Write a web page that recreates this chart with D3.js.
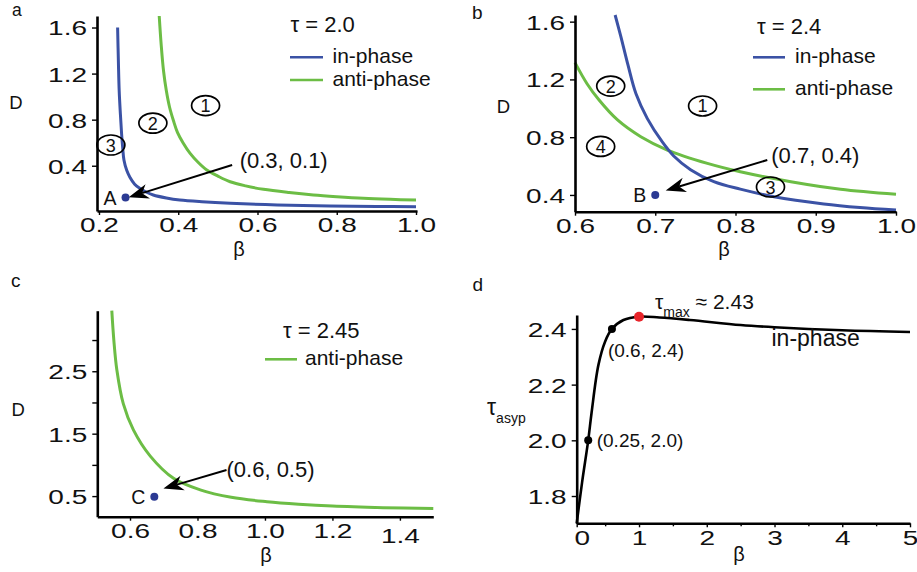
<!DOCTYPE html>
<html><head><meta charset="utf-8">
<script src="https://cdn.jsdelivr.net/npm/d3@7"></script>
<style>
body{margin:0;background:#fff}
svg{display:block}
text{font-family:'Liberation Sans',Arial,Helvetica,sans-serif;fill:#111}
</style>
</head><body>
<svg id="chart" width="917" height="572"></svg>
<script>
// ---------------- DATA ----------------
// Panel a (tau = 2.0): [beta, D]
const aInPhase = [[0.247,1.6],[0.249,1.3],[0.251,1.05],[0.254,0.85],[0.257,0.68],[0.260,0.55],[0.263,0.45],[0.270,0.36],[0.278,0.30],[0.290,0.24],[0.303,0.204],[0.320,0.17],[0.337,0.146],[0.370,0.12],[0.404,0.102],[0.460,0.087],[0.531,0.074],[0.650,0.06],[0.783,0.05],[0.900,0.047],[1.0,0.044]];
const aAntiPhase = [[0.352,1.7],[0.357,1.45],[0.363,1.22],[0.370,1.05],[0.378,0.91],[0.388,0.79],[0.398,0.69],[0.412,0.6],[0.430,0.507],[0.450,0.43],[0.472,0.363],[0.500,0.31],[0.531,0.261],[0.570,0.225],[0.615,0.195],[0.680,0.167],[0.741,0.146],[0.800,0.131],[0.867,0.117],[0.935,0.108],[1.0,0.102]];
// Panel b (tau = 2.4)
const bInPhase = [[0.650,1.646],[0.657,1.5],[0.666,1.3],[0.676,1.1],[0.690,0.93],[0.709,0.765],[0.723,0.67],[0.744,0.575],[0.773,0.492],[0.806,0.44],[0.848,0.388],[0.910,0.338],[0.955,0.313],[1.0,0.295]];
const bAntiPhase = [[0.600,1.316],[0.615,1.17],[0.630,1.057],[0.653,0.919],[0.682,0.803],[0.715,0.711],[0.765,0.619],[0.806,0.561],[0.869,0.492],[0.931,0.44],[1.0,0.405]];
// Panel c (tau = 2.45)
const cAntiPhase = [[0.546,3.47],[0.552,3.0],[0.561,2.52],[0.580,1.98],[0.610,1.56],[0.660,1.14],[0.730,0.78],[0.808,0.6],[0.900,0.48],[1.006,0.41],[1.100,0.37],[1.200,0.34],[1.350,0.315],[1.499,0.30]];
// Panel d: [beta, tau_asyp]
const dInPhase = [[0.08,1.702],[0.16,1.85],[0.25,2.0],[0.30,2.1],[0.40,2.27],[0.50,2.355],[0.60,2.4],[0.77,2.432],[1.0,2.444],[1.3,2.441],[1.75,2.432],[2.5,2.414],[3.0,2.406],[4.0,2.395],[5.0,2.389]];
const dMarked = [[0.25,2.0,"#000"],[0.6,2.4,"#000"],[1.0,2.444,"#e8252b"]];

// tick values
const aTicksX = [0.2,0.4,0.6,0.8,1.0], aTicksY = [0.4,0.8,1.2,1.6];
const bTicksX = [0.6,0.7,0.8,0.9,1.0], bTicksY = [0.4,0.8,1.2,1.6];
const cTicksX = [0.6,0.8,1.0,1.2,1.4], cTicksY = [0.5,1.0,1.5,2.0,2.5,3.0], cLabelsY = [0.5,1.5,2.5];
const dTicksX = [1,2,3,4,5], dMinorX = [0.5,1.5,2.5,3.5,4.5], dTicksY = [1.8,2.0,2.2,2.4];

// region labels [beta, D, label]
const aRegions = [[0.469,0.922,"1"],[0.336,0.77,"2"],[0.23,0.58,"3"]];
const bRegions = [[0.759,1.016,"1"],[0.6445,1.154,"2"],[0.8436,0.455,"3"],[0.632,0.736,"4"]];

// marked points and arrows: point, label, arrow start, arrow tip, text
const aMark = {pt:[0.267,0.124], name:"A", from:[0.536,0.406], to:[0.275,0.126], text:"(0.3, 0.1)", textAt:[0.555,0.448]};
const bMark = {pt:[0.7,0.4], name:"B", from:[0.8396,0.642], to:[0.713,0.43], text:"(0.7, 0.4)", textAt:[0.8446,0.672]};
const cMark = {pt:[0.672,0.49], name:"C", from:[0.886,0.918], to:[0.699,0.62], text:"(0.6, 0.5)", textAt:[0.886,0.93]};

const BLUE = "#3b52a5", GREEN = "#6cbd45", DOT = "#2b3a93";
const TSCALE = 1.4;

// ---------------- DRAW ----------------
const svg = d3.select("#chart");

function styleAxis(g){
  g.select(".domain").attr("stroke","#000").attr("stroke-width",2.6);
  g.selectAll(".tick line").attr("stroke","#000").attr("stroke-width",1.4);
  g.selectAll(".tick text").attr("fill","#111").style("font-size","20px");
}
function xAxis(x, yPix, ticks, fmt){
  const g = svg.append("g").attr("transform",`translate(0,${yPix})`)
    .call(d3.axisBottom(x).tickValues(ticks).tickSizeInner(4).tickSizeOuter(0).tickFormat(fmt));
  styleAxis(g);
  g.selectAll(".tick text").attr("y",21.5).attr("dy",0).attr("transform",`scale(${TSCALE},1)`);
  return g;
}
function yAxis(y, xPix, ticks, fmt){
  const g = svg.append("g").attr("transform",`translate(${xPix},0)`)
    .call(d3.axisLeft(y).tickValues(ticks).tickSizeInner(5).tickSizeOuter(0).tickFormat(fmt));
  styleAxis(g);
  g.selectAll(".tick text").attr("x",-10/TSCALE).attr("dy","0.37em").attr("transform",`scale(${TSCALE},1)`);
  return g;
}
function curve(x,y,data,color,w=3){
  svg.append("path").datum(data)
    .attr("d", d3.line().x(d=>x(d[0])).y(d=>y(d[1])).curve(d3.curveCatmullRom.alpha(0.5)))
    .attr("fill","none").attr("stroke",color).attr("stroke-width",w).attr("stroke-linecap","butt");
}
function txt(x,y,s,size,anchor="start"){
  return svg.append("text").attr("x",x).attr("y",y).attr("text-anchor",anchor).style("font-size",size+"px").text(s);
}
function arrow(x1,y1,x2,y2){
  const a = Math.atan2(y2-y1,x2-x1), c=Math.cos(a), s=Math.sin(a);
  const L=20, W=7.5, N=14;
  svg.append("line").attr("x1",x1).attr("y1",y1).attr("x2",x2-N*c).attr("y2",y2-N*s)
    .attr("stroke","#000").attr("stroke-width",2);
  const pts = [[x2,y2],[x2-L*c-W*s, y2-L*s+W*c],[x2-N*c,y2-N*s],[x2-L*c+W*s, y2-L*s-W*c]];
  svg.append("polygon").attr("points",pts.map(p=>p.join(",")).join(" ")).attr("fill","#000");
}
function regions(x,y,list){
  list.forEach(r=>{
    svg.append("ellipse").attr("cx",x(r[0])).attr("cy",y(r[1])).attr("rx",14).attr("ry",10)
      .attr("fill","none").attr("stroke","#000").attr("stroke-width",1.7);
    txt(x(r[0]),y(r[1])+6.5,r[2],18,"middle");
  });
}
function mark(x,y,m){
  svg.append("circle").attr("cx",x(m.pt[0])).attr("cy",y(m.pt[1])).attr("r",4).attr("fill",DOT);
  txt(x(m.pt[0])-9,y(m.pt[1])+7,m.name,19.5,"end");
  arrow(x(m.from[0]),y(m.from[1]),x(m.to[0]),y(m.to[1]));
  txt(x(m.textAt[0]),y(m.textAt[1])+7.5,m.text,22,"start");
}
function legendLine(x1,x2,yy,color){
  svg.append("line").attr("x1",x1).attr("x2",x2).attr("y1",yy).attr("y2",yy).attr("stroke",color).attr("stroke-width",2.6);
}
const fmt1 = d3.format(".1f");

// ---- Panel a ----
{
  const x = d3.scaleLinear().domain([0.195,1.0025]).range([97,417]);
  const y = d3.scaleLinear().domain([0.007,1.70]).range([211,16]);
  curve(x,y,aAntiPhase,GREEN);
  curve(x,y,aInPhase,BLUE);
  xAxis(x,211,aTicksX,fmt1);
  yAxis(y,97,aTicksY,fmt1);
  regions(x,y,aRegions);
  mark(x,y,aMark);
  txt(290.5,32,"τ = 2.0",22);
  legendLine(290,323,57.3,BLUE); txt(332.5,62.5,"in-phase",21);
  legendLine(290,323,80,GREEN); txt(332.5,85.5,"anti-phase",21);
  txt(16,109.3,"D",18.5,"middle");
  txt(239,255.5,"β",20,"middle");
  txt(12,16,"a",17.5);
}
// ---- Panel b ----
{
  const x = d3.scaleLinear().domain([0.6,1.0]).range([575,896]);
  const y = d3.scaleLinear().domain([0.284,1.646]).range([211.7,15]);
  curve(x,y,bAntiPhase,GREEN);
  curve(x,y,bInPhase,BLUE);
  xAxis(x,211.7,bTicksX,fmt1);
  yAxis(y,575,bTicksY,fmt1);
  regions(x,y,bRegions);
  mark(x,y,bMark);
  txt(757,33.5,"τ = 2.4",22);
  legendLine(753,785,57.3,BLUE); txt(795,63,"in-phase",21);
  legendLine(753,785,89.3,GREEN); txt(795,95,"anti-phase",21);
  txt(503.5,113.3,"D",18.5,"middle");
  txt(724,255.5,"β",20,"middle");
  txt(472,18.5,"b",19);
}
// ---- Panel c ----
{
  const x = d3.scaleLinear().domain([0.503,1.499]).range([97.3,433.3]);
  const y = d3.scaleLinear().domain([0.17,3.47]).range([516.7,310.7]);
  curve(x,y,cAntiPhase,GREEN);
  const gx = xAxis(x,516.7,cTicksX,fmt1);
  gx.selectAll(".tick text").filter(d=>d>1.3).attr("y",26);
  yAxis(y,97.3,cTicksY,d=>cLabelsY.includes(d)?fmt1(d):"");
  mark(x,y,cMark);
  txt(283,338.3,"τ = 2.45",22);
  legendLine(265,297,359.3,GREEN); txt(305,365,"anti-phase",21);
  txt(18.3,416,"D",18.5,"middle");
  txt(266,561.5,"β",20,"middle");
  txt(11,287,"c",19);
}
// ---- Panel d ----
{
  const x = d3.scaleLinear().domain([0.08,5]).range([576.7,910]);
  const y = d3.scaleLinear().domain([1.702,2.45]).range([523.3,315]);
  curve(x,y,dInPhase,"#000",2.6);
  const gm = svg.append("g").attr("transform","translate(0,523.3)")
    .call(d3.axisBottom(x).tickValues(dMinorX).tickSizeInner(3).tickSizeOuter(0).tickFormat(""));
  styleAxis(gm); gm.select(".domain").remove();
  xAxis(x,523.3,[0.08,...dTicksX],d=>d<0.5?"0":d3.format("d")(d))
    .selectAll(".tick text").filter(d=>d<0.5).attr("x",5/TSCALE);
  yAxis(y,576.7,dTicksY,fmt1);
  dMarked.forEach(p=>{
    svg.append("circle").attr("cx",x(p[0])).attr("cy",y(p[1])).attr("r",p[2]==="#000"?4:5).attr("fill",p[2]);
  });
  txt(x(0.25)+8.5,y(2.0)+7,"(0.25, 2.0)",19);
  txt(x(0.6)-4,y(2.4)+28,"(0.6, 2.4)",19);
  const tm = svg.append("text").attr("x",655).attr("y",309).style("font-size","21px");
  tm.append("tspan").text("τ");
  tm.append("tspan").attr("dy",8).style("font-size","14px").text("max");
  tm.append("tspan").attr("dy",-8).text(" ≈ 2.43");
  txt(771.5,345.5,"in-phase",23);
  const ty = svg.append("text").attr("x",487).attr("y",415).style("font-size","23px");
  ty.append("tspan").text("τ");
  ty.append("tspan").attr("dy",8).style("font-size","14px").text("asyp");
  txt(739,561,"β",20,"middle");
  txt(472.5,291,"d",19);
}
</script>
</body></html>
